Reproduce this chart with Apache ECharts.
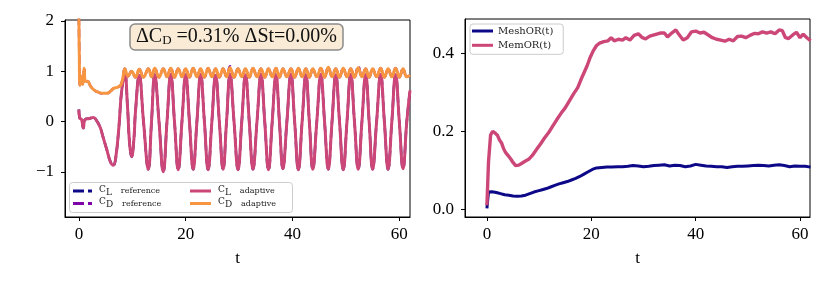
<!DOCTYPE html>
<html>
<head>
<meta charset="utf-8">
<script src="https://cdn.jsdelivr.net/npm/echarts@6/dist/echarts.min.js"></script>
<style>
html,body{margin:0;padding:0;background:#fff;}
#c{width:830px;height:290px;}
</style>
</head>
<body>
<div id="c"></div>
<script>
// ---- Left panel: force coefficients vs t ----
const xTicks = [0, 20, 40, 60];
const yTicksLeft = [-1, 0, 1, 2];
const yTicksRight = [0, 0.2, 0.4];

const clAdaptive = [[0,0.24],[0.15,0.07],[0.5,0.04],[0.84,-0.13],[1.15,0.04],[2.0,0.06],[2.7,0.08],[3.3,0.02],[4.0,-0.12],[4.5,-0.3],[5.2,-0.55],[5.9,-0.8],[6.45,-0.87],[6.9,-0.72],[7.5,-0.1],[8.0,0.6],[8.6,0.95],[9.1,0.3],[9.5,-0.45],[9.87,-0.7],[10.3,-0.35],[10.6,0.2],[11.3,0.92],[12.1,0],[13.0,-0.95],[13.6,0],[14.2,0.93],[15.0,0],[15.8,-1.0],[16.5,0],[17.2,0.94],[17.9,0],[18.6,-0.96],[19.3,0],[20.0,0.93],[20.7,0],[21.4,-0.95],[22.1,0],[22.8,0.94],[23.5,0],[24.2,-0.96],[24.9,0],[25.6,0.92],[26.3,0],[27.0,-0.95],[27.65,0],[28.3,0.94],[29.05,0],[29.8,-0.96],[30.5,0],[31.2,0.93],[31.9,0],[32.6,-0.95],[33.35,0],[34.1,0.94],[34.8,0],[35.5,-0.96],[36.2,0],[36.9,0.93],[37.55,0],[38.2,-0.94],[38.95,0],[39.7,0.94],[40.4,0],[41.1,-0.96],[41.8,0],[42.5,0.93],[43.15,0],[43.8,-0.95],[44.55,0],[45.3,0.94],[46.0,0],[46.7,-0.95],[47.4,0],[48.1,0.93],[48.8,0],[49.5,-0.96],[50.2,0],[50.9,0.94],[51.6,0],[52.3,-0.95],[53.0,0],[53.7,0.93],[54.35,0],[55.0,-0.95],[55.75,0],[56.5,0.94],[57.2,0],[57.9,-0.95],[58.6,0],[59.3,0.93],[60.0,0],[60.7,-0.94],[61.4,0],[62,0.62]];

const cdAdaptive = [[0,2.1],[0.08,1.3],[0.2,0.72],[0.45,0.9],[0.7,0.74],[1.0,1.06],[1.2,0.8],[1.6,0.8],[2.2,0.7],[2.8,0.63],[3.5,0.59],[4.4,0.56],[5.2,0.56],[5.9,0.6],[6.5,0.66],[7.2,0.68],[7.8,0.72],[8.2,0.85],[8.6,1.05],[9.2,0.9],[9.87,1.0],[10.6,0.88],[11.3,1.04],[12.1,0.88],[13.0,1.05],[13.6,0.89],[14.2,1.06],[15.0,0.88],[15.8,1.05],[16.5,0.89],[17.2,1.06],[17.9,0.88],[18.6,1.05],[19.3,0.89],[20.0,1.05],[20.7,0.88],[21.4,1.06],[22.1,0.89],[22.8,1.05],[23.5,0.88],[24.2,1.06],[24.9,0.89],[25.6,1.05],[26.3,0.88],[27.0,1.05],[27.65,0.89],[28.3,1.07],[29.05,0.88],[29.8,1.05],[30.5,0.89],[31.2,1.05],[31.9,0.88],[32.6,1.06],[33.35,0.89],[34.1,1.05],[34.8,0.88],[35.5,1.05],[36.2,0.89],[36.9,1.06],[37.55,0.88],[38.2,1.05],[38.95,0.89],[39.7,1.05],[40.4,0.88],[41.1,1.06],[41.8,0.89],[42.5,1.05],[43.15,0.88],[43.8,1.05],[44.55,0.89],[45.3,1.06],[46.0,0.88],[46.7,1.08],[47.4,0.89],[48.1,1.05],[48.8,0.88],[49.5,1.06],[50.2,0.89],[50.9,1.05],[51.6,0.88],[52.3,1.07],[53.0,0.89],[53.7,1.05],[54.35,0.88],[55.0,1.05],[55.75,0.89],[56.5,1.06],[57.2,0.88],[57.9,1.05],[58.6,0.89],[59.3,1.06],[60.0,0.88],[60.7,1.05],[61.4,0.89],[62,0.92]];

// reference curves lie under the adaptive ones in the picture
const clReference = clAdaptive;
const cdReference = [[0,2.1],[0.08,1.3],[0.2,0.72],[0.45,0.9],[0.7,0.74],[1.0,1.06],[1.2,0.8],[1.6,0.8],[2.2,0.7],[2.8,0.63],[3.5,0.59],[4.4,0.56],[5.2,0.56],[5.9,0.6],[6.5,0.66],[7.2,0.68],[7.8,0.72],[8.2,0.85],[8.6,1.05],[9.2,0.9],[9.87,1.0],[10.6,0.88],[11.3,1.04],[12.1,0.88],[13.0,1.05],[13.6,0.89],[14.2,1.06],[15.0,0.88],[15.8,1.05],[16.5,0.89],[17.2,1.07],[17.9,0.88],[18.6,1.05],[19.3,0.89],[20.0,1.05],[20.7,0.88],[21.4,1.06],[22.1,0.89],[22.8,1.05],[23.5,0.88],[24.2,1.06],[24.9,0.89],[25.6,1.05],[26.3,0.88],[27.0,1.05],[27.65,0.89],[28.3,1.1],[29.05,0.88],[29.8,1.05],[30.5,0.89],[31.2,1.05],[31.9,0.88],[32.6,1.06],[33.35,0.89],[34.1,1.05],[34.8,0.88],[35.5,1.05],[36.2,0.89],[36.9,1.06],[37.55,0.88],[38.2,1.05],[38.95,0.89],[39.7,1.05],[40.4,0.88],[41.1,1.06],[41.8,0.89],[42.5,1.05],[43.15,0.88],[43.8,1.05],[44.55,0.89],[45.3,1.06],[46.0,0.88],[46.7,1.08],[47.4,0.89],[48.1,1.05],[48.8,0.88],[49.5,1.06],[50.2,0.89],[50.9,1.05],[51.6,0.88],[52.3,1.1],[53.0,0.89],[53.7,1.05],[54.35,0.88],[55.0,1.05],[55.75,0.89],[56.5,1.06],[57.2,0.88],[57.9,1.05],[58.6,0.89],[59.3,1.06],[60.0,0.88],[60.7,1.05],[61.4,0.89],[62,0.92]];

// ---- Right panel: overhead ratios ----
const meshOR = [[0,0.002],[0.3,0.044],[1.0,0.045],[1.8,0.043],[2.6,0.04],[3.4,0.037],[4.2,0.036],[5.0,0.034],[5.8,0.033],[6.6,0.034],[7.4,0.036],[8.2,0.04],[9.0,0.044],[9.8,0.047],[10.6,0.05],[11.4,0.053],[12.2,0.057],[13.0,0.061],[13.8,0.065],[14.6,0.068],[15.4,0.071],[16.2,0.075],[17.0,0.079],[17.8,0.084],[18.6,0.09],[19.4,0.096],[20.2,0.102],[21.0,0.106],[22.0,0.107],[23.0,0.108],[24.0,0.108],[25.0,0.109],[26.0,0.109],[27.0,0.11],[28.0,0.112],[29.0,0.111],[30.0,0.109],[31.0,0.11],[32.0,0.112],[33.0,0.113],[34.0,0.114],[35.0,0.111],[36.0,0.113],[37.0,0.112],[38.0,0.109],[39.0,0.111],[40.0,0.115],[41.0,0.113],[42.0,0.111],[43.0,0.11],[44.0,0.109],[45.0,0.109],[46.0,0.107],[47.0,0.109],[48.0,0.11],[49.0,0.11],[50.0,0.111],[51.0,0.112],[52.0,0.113],[53.0,0.112],[54.0,0.111],[55.0,0.113],[56.0,0.114],[57.0,0.112],[58.0,0.109],[59.0,0.111],[60.0,0.11],[61.0,0.11],[62,0.108]];

const memOR = [[0,0.01],[0.3,0.12],[0.7,0.19],[1.1,0.2],[1.6,0.195],[2.0,0.19],[2.4,0.178],[2.8,0.17],[3.2,0.155],[3.6,0.145],[4.1,0.137],[4.6,0.128],[5.0,0.12],[5.5,0.112],[6.1,0.113],[6.7,0.118],[7.3,0.123],[8.0,0.128],[8.7,0.138],[9.5,0.153],[10.3,0.168],[11.0,0.182],[11.8,0.196],[12.6,0.213],[13.4,0.23],[14.2,0.246],[15.0,0.26],[15.8,0.278],[16.6,0.296],[17.4,0.312],[18.0,0.332],[18.6,0.35],[19.2,0.368],[19.8,0.39],[20.4,0.407],[21.0,0.42],[21.6,0.426],[22.4,0.43],[23.2,0.432],[23.8,0.44],[24.4,0.432],[25.2,0.436],[26.0,0.434],[26.6,0.44],[27.4,0.434],[28.2,0.446],[29.0,0.45],[29.8,0.44],[30.4,0.437],[31.2,0.444],[32.2,0.448],[33.2,0.452],[34.0,0.452],[34.6,0.442],[35.4,0.452],[36.2,0.46],[36.8,0.448],[37.6,0.434],[38.4,0.44],[39.2,0.455],[40.0,0.457],[40.8,0.452],[41.6,0.454],[42.4,0.447],[43.2,0.44],[44.0,0.436],[44.8,0.434],[45.6,0.431],[46.4,0.436],[47.2,0.432],[48.0,0.443],[48.8,0.444],[49.6,0.44],[50.4,0.446],[51.2,0.451],[52.0,0.45],[52.8,0.455],[53.6,0.452],[54.4,0.455],[55.2,0.45],[56.0,0.46],[56.6,0.458],[57.2,0.44],[57.8,0.438],[58.6,0.447],[59.3,0.454],[60.0,0.44],[60.6,0.449],[61.3,0.44],[62,0.432]];

const annotationText = ['ΔC', 'D', ' =0.31% ΔSt=0.00%'];

const COL = {
  clRef: '#0d0887', cdRef: '#7e03a8', clAd: '#cc4778', cdAd: '#f89540'
};
const SERIF = 'Liberation Serif';
const SMALL = 'DejaVu Serif';

const chart = echarts.init(document.getElementById('c'), null, {renderer: 'canvas'});

function axisCommon(extra) {
  return Object.assign({
    type: 'value',
    splitLine: {show: false},
    axisLine: {show: true, onZero: false, lineStyle: {color: '#000', width: 1}},
    axisTick: {show: true, inside: false, length: 4, lineStyle: {color: '#000', width: 1}},
    axisLabel: {color: '#000', fontFamily: SERIF, fontSize: 17}
  }, extra);
}

const minus = v => String(v).replace('-', '\u2212');

const dashIcon = 'path://M0,0H11V3H0Z M15,0H19V3H15Z';
const legendRich = {
  c: {fontFamily: SMALL, fontSize: 9, lineHeight: 8, verticalAlign: 'top', color: '#222', padding: [0, 0, 0, 2]},
  s: {fontFamily: SMALL, fontSize: 9, lineHeight: 8, verticalAlign: 'bottom', color: '#222', padding: [0, 9, 0, 0]},
  r: {fontFamily: SMALL, fontSize: 8, lineHeight: 12, verticalAlign: 'middle', color: '#222'}
};
const legendFmt = name => {
  const parts = name.split(' ');
  return '{c|C}{s|' + parts[0].slice(1) + '}{r|' + parts[1] + '}';
};

const option = {
  animation: false,
  backgroundColor: '#fff',
  title: {
    text: '{a|' + annotationText[0] + '}{b|' + annotationText[1] + '}{a|' + annotationText[2] + '}',
    left: 130, top: 24,
    padding: [3, 6, 3, 6],
    backgroundColor: '#f9ebd5',
    borderColor: '#8a8a8a',
    borderWidth: 1.5,
    borderRadius: 5,
    textStyle: {
      fontWeight: 'normal',
      rich: {
        a: {fontFamily: SERIF, fontWeight: 'normal', fontSize: 20, color: '#111', lineHeight: 20, verticalAlign: 'top'},
        b: {fontFamily: SERIF, fontWeight: 'normal', fontSize: 13, color: '#111', lineHeight: 17, verticalAlign: 'bottom'}
      }
    }
  },
  graphic: [{
    type: 'rect', z: 50,
    shape: {x: 69.5, y: 182.5, width: 223, height: 30, r: 3},
    style: {fill: 'rgba(255,255,255,0.85)', stroke: '#cccccc', lineWidth: 1}
  }],
  grid: [
    {left: 65, top: 20, width: 345, height: 197, show: true, borderColor: '#000', borderWidth: 1, backgroundColor: 'transparent'},
    {left: 465, top: 19, width: 345, height: 198, show: true, borderColor: '#000', borderWidth: 1, backgroundColor: 'transparent'}
  ],
  xAxis: [
    axisCommon({gridIndex: 0, min: -2.6, max: 62,
      name: 't', nameLocation: 'middle', nameGap: 33,
      nameTextStyle: {fontFamily: SERIF, fontSize: 17, color: '#000'},
      axisTick: {show: true, length: 4, lineStyle: {color: '#000'}, customValues: xTicks},
      axisLabel: {color: '#000', fontFamily: SERIF, fontSize: 17, margin: 9, customValues: xTicks}}),
    axisCommon({gridIndex: 1, min: -4.2, max: 61.9,
      name: 't', nameLocation: 'middle', nameGap: 33,
      nameTextStyle: {fontFamily: SERIF, fontSize: 17, color: '#000'},
      axisTick: {show: true, length: 4, lineStyle: {color: '#000'}, customValues: xTicks},
      axisLabel: {color: '#000', fontFamily: SERIF, fontSize: 17, margin: 9, customValues: xTicks}})
  ],
  yAxis: [
    axisCommon({gridIndex: 0, min: -1.9, max: 2.02,
      axisTick: {show: true, length: 4, lineStyle: {color: '#000'}, customValues: yTicksLeft},
      axisLabel: {color: '#000', fontFamily: SERIF, fontSize: 17, margin: 11, customValues: yTicksLeft, formatter: v => minus(v)}}),
    axisCommon({gridIndex: 1, min: -0.02, max: 0.488,
      axisTick: {show: true, length: 4, lineStyle: {color: '#000'}, customValues: yTicksRight},
      axisLabel: {color: '#000', fontFamily: SERIF, fontSize: 17, margin: 11, customValues: yTicksRight, formatter: v => v.toFixed(1)}})
  ],
  legend: [
    {
      z: 60, left: 73, top: 185, orient: 'vertical', padding: 0, itemGap: 0.5,
      itemWidth: 19, itemHeight: 3, symbolKeepAspect: false,
      data: [{name: 'CL reference', icon: dashIcon}, {name: 'CD reference', icon: dashIcon}],
      formatter: legendFmt, textStyle: {rich: legendRich}
    },
    {
      z: 60, left: 190, top: 185, orient: 'vertical', padding: 0, itemGap: 0.5,
      itemWidth: 21, itemHeight: 3, symbolKeepAspect: false,
      data: [{name: 'CL adaptive', icon: 'rect'}, {name: 'CD adaptive', icon: 'rect'}],
      formatter: legendFmt, textStyle: {rich: legendRich}
    },
    {
      z: 60, left: 470, top: 24, orient: 'vertical', padding: [1, 10, 3, 2], itemGap: 2.3,
      itemWidth: 21, itemHeight: 3, symbolKeepAspect: false,
      backgroundColor: 'rgba(255,255,255,0.85)', borderColor: '#cccccc', borderWidth: 1, borderRadius: 3,
      data: [{name: 'MeshOR(t)', icon: 'rect'}, {name: 'MemOR(t)', icon: 'rect'}],
      textStyle: {fontFamily: SMALL, fontSize: 10, color: '#222', lineHeight: 12}
    }
  ],
  series: [
    {name: 'CL reference', type: 'line', xAxisIndex: 0, yAxisIndex: 0, data: clReference, showSymbol: false, symbol: 'none', smooth: 0.45,
      color: COL.clRef, lineStyle: {color: COL.clRef, width: 2.5, type: [9, 4]}},
    {name: 'CD reference', type: 'line', xAxisIndex: 0, yAxisIndex: 0, data: cdReference, showSymbol: false, symbol: 'none', smooth: 0.45,
      color: COL.cdRef, lineStyle: {color: COL.cdRef, width: 2.5, type: [9, 4]}},
    {name: 'CL adaptive', type: 'line', xAxisIndex: 0, yAxisIndex: 0, data: clAdaptive, showSymbol: false, symbol: 'none', smooth: 0.45,
      color: COL.clAd, lineStyle: {color: COL.clAd, width: 3}},
    {name: 'CD adaptive', type: 'line', xAxisIndex: 0, yAxisIndex: 0, data: cdAdaptive, showSymbol: false, symbol: 'none', smooth: 0.45,
      color: COL.cdAd, lineStyle: {color: COL.cdAd, width: 3}},
    {name: 'MeshOR(t)', type: 'line', xAxisIndex: 1, yAxisIndex: 1, data: meshOR, showSymbol: false, symbol: 'none',
      color: '#0d0887', lineStyle: {color: '#0d0887', width: 3}},
    {name: 'MemOR(t)', type: 'line', xAxisIndex: 1, yAxisIndex: 1, data: memOR, showSymbol: false, symbol: 'none',
      color: '#cc4778', lineStyle: {color: '#cc4778', width: 3.4}}
  ]
};
chart.setOption(option);
</script>
</body>
</html>
